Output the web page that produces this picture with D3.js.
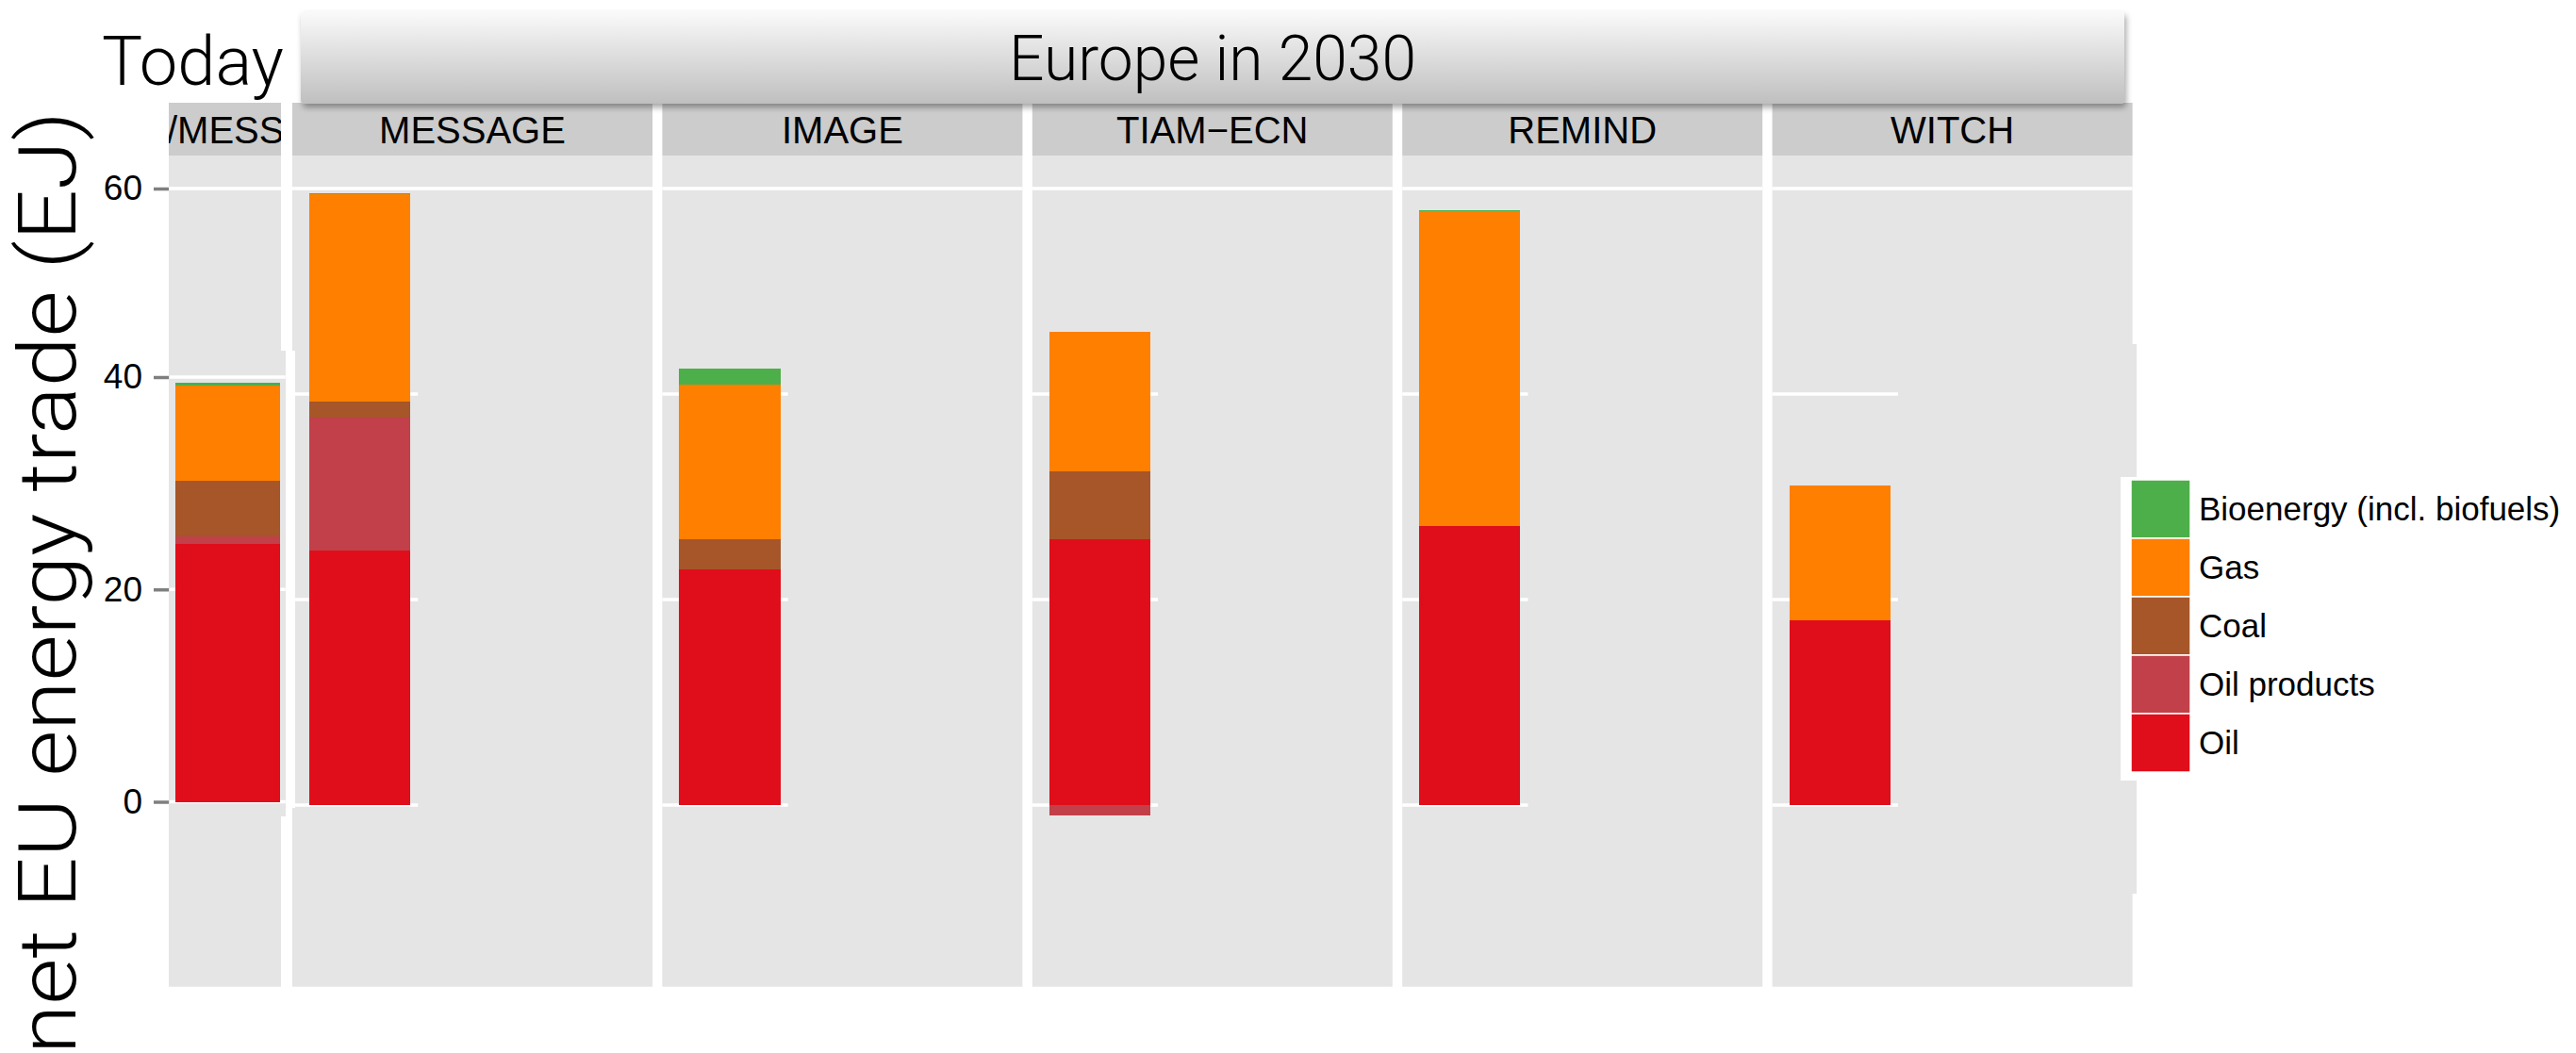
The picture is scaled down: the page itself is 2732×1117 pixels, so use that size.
<!DOCTYPE html>
<html>
<head>
<meta charset="utf-8">
<script src="https://cdn.jsdelivr.net/npm/d3@7"></script>
<style>
  html, body { margin: 0; padding: 0; background: #ffffff; }
  svg { display: block; }
</style>
</head>
<body>
<svg id="chart" width="2732" height="1117"></svg>
<script>
// ---- data -------------------------------------------------------------
const categories = ["Oil", "Oil products", "Coal", "Gas", "Bioenergy (incl. biofuels)"];
const models = ["MESSAGE", "IMAGE", "TIAM\u2212ECN", "REMIND", "WITCH"];

// net imports by carrier for each model, EJ (2030)
const oil         = [24.8, 22.9, 25.9, 27.2, 18.0];
const oilProducts = [12.9, 0.0, -1.05, 0.0, 0.0];
const coal        = [1.6, 2.95, 6.55, 0.0, 0.0];
const gas         = [20.15, 15.1, 13.6, 30.6, 13.1];
const bioenergy   = [0.05, 1.5, 0.0, 0.1, 0.0];

// today's net imports, same carrier order as `categories`
const todayStripLabel = "/MESSAGE";
const todayValues = [24.25, 0.78, 5.2, 9.0, 0.24];

const yTicksMain = [60];
const yTicksToday = [0, 20, 40];

const colors = ["#E00E1A", "#C1404A", "#A65628", "#FF7F00", "#4DAF4A"];

// ---- setup -------------------------------------------------------------
const svg = d3.select("#chart");
const W = 2732, H = 1117;

const PANEL_BG = "#e5e5e5", STRIP_BG = "#cccccc", GRID = "#ffffff", TICK = "#7f7f7f";
const sans = "'Liberation Sans', Arial, Helvetica, sans-serif";
const thin = "Roboto, 'Open Sans', Lato, sans-serif";

const stripTop = 109, stripBottom = 165, panelBottom = 1046.7;

const color = d3.scaleOrdinal().domain(categories).range(colors);

const yMain = d3.scaleLinear().domain([0, 60]).range([854, 200]);
const yToday = d3.scaleLinear().domain([0, 40]).range([850.5, 400]);

const panelX = d3.scaleBand().domain(models).range([310, 2261.6]).paddingInner(0.0265);
const pw = panelX.bandwidth();
const barX = d3.scaleBand().domain(["2030"]).range([0, pw * 1.2 / 3.2])
  .paddingInner(0.1).paddingOuter(0.151);
const todayX = d3.scaleBand().domain(["Today"]).range([186, 297]);

const rows = models.map((m, i) => ({
  model: m,
  "Oil": oil[i],
  "Oil products": oilProducts[i],
  "Coal": coal[i],
  "Gas": gas[i],
  "Bioenergy (incl. biofuels)": bioenergy[i]
}));
const todayRow = [Object.fromEntries(categories.map((c, i) => [c, todayValues[i]]))];
todayRow[0].model = "Today";

const stack = d3.stack().keys(categories).offset(d3.stackOffsetDiverging);
const series = stack(rows);
const todaySeries = stack(todayRow);

// ---- defs ----------------------------------------------------------------
const defs = svg.append("defs");
const grad = defs.append("linearGradient").attr("id", "boxGrad")
  .attr("x1", 0).attr("y1", 0).attr("x2", 0).attr("y2", 1);
grad.append("stop").attr("offset", "0%").attr("stop-color", "#fafafa");
grad.append("stop").attr("offset", "100%").attr("stop-color", "#bfbfbf");
const shadow = defs.append("filter").attr("id", "boxShadow")
  .attr("x", "-2%").attr("y", "-20%").attr("width", "104%").attr("height", "150%");
shadow.append("feDropShadow").attr("dx", 2).attr("dy", 4).attr("stdDeviation", 3)
  .attr("flood-color", "#000").attr("flood-opacity", 0.35);
defs.append("clipPath").attr("id", "todayStripClip")
  .append("rect").attr("x", 179).attr("y", stripTop).attr("width", 119).attr("height", stripBottom - stripTop);

// ---- "Today" panel -------------------------------------------------------
const today = svg.append("g").attr("class", "today-panel");
today.append("rect").attr("x", 179).attr("y", stripTop).attr("width", 119)
  .attr("height", stripBottom - stripTop).attr("fill", STRIP_BG);
today.append("text").attr("clip-path", "url(#todayStripClip)")
  .attr("x", 177).attr("y", 151.5).attr("font-family", sans).attr("font-size", 40)
  .attr("fill", "#000").text(todayStripLabel);

today.append("rect").attr("x", 179).attr("y", stripBottom).attr("width", 119)
  .attr("height", panelBottom - stripBottom).attr("fill", PANEL_BG);
today.append("rect").attr("x", 179).attr("y", yMain(60) - 1.75).attr("width", 119)
  .attr("height", 3.5).attr("fill", GRID);
// inset carrying today's values
today.append("rect").attr("x", 180).attr("y", 372).attr("width", 123)
  .attr("height", 494).attr("fill", PANEL_BG);
today.selectAll("rect.grid").data(yTicksToday).join("rect").attr("class", "grid")
  .attr("x", 180).attr("width", 122.7).attr("y", d => yToday(d) - 1.75).attr("height", 3.5)
  .attr("fill", GRID);

today.selectAll("g.layer").data(todaySeries).join("g").attr("class", "layer")
  .attr("fill", d => color(d.key))
  .selectAll("rect").data(d => d.filter(p => p[1] !== p[0])).join("rect")
  .attr("shape-rendering", "crispEdges")
  .attr("x", todayX("Today")).attr("width", todayX.bandwidth())
  .attr("y", p => yToday(Math.max(p[0], p[1])))
  .attr("height", p => Math.abs(yToday(p[0]) - yToday(p[1])));

// ---- model panels --------------------------------------------------------
const panels = svg.selectAll("g.panel").data(models).join("g").attr("class", "panel")
  .attr("transform", m => `translate(${panelX(m)},0)`);

panels.append("rect").attr("x", 0).attr("y", stripTop).attr("width", pw)
  .attr("height", stripBottom - stripTop).attr("fill", STRIP_BG);
panels.append("text").attr("x", pw / 2).attr("y", 151.5).attr("text-anchor", "middle")
  .attr("font-family", sans).attr("font-size", 40).attr("fill", "#000").text(m => m);
panels.append("rect").attr("x", 0).attr("y", stripBottom).attr("width", pw)
  .attr("height", panelBottom - stripBottom).attr("fill", PANEL_BG);

// full-width major grid line
panels.selectAll("rect.gridfull").data(yTicksMain).join("rect").attr("class", "gridfull")
  .attr("x", 0).attr("width", pw).attr("y", d => yMain(d) - 1.75).attr("height", 3.5)
  .attr("fill", GRID);
// short grid lines in the lower block
const gridRight = barX("2030") + barX.bandwidth() + 8;
panels.selectAll("rect.gridshort").data([0, 20, 40]).join("rect").attr("class", "gridshort")
  .attr("x", 0).attr("width", gridRight).attr("y", d => yMain(d) - 1.75).attr("height", 3.5)
  .attr("fill", GRID);

// stacked bars
const byModel = models.map(m => series.map(s => {
  const p = s.find(q => q.data.model === m);
  return { key: s.key, y0: p[0], y1: p[1] };
}).filter(d => d.y0 !== d.y1));

panels.each(function (m, i) {
  d3.select(this).selectAll("rect.seg").data(byModel[i]).join("rect").attr("class", "seg")
    .attr("shape-rendering", "crispEdges")
    .attr("x", barX("2030")).attr("width", barX.bandwidth())
    .attr("y", d => yMain(Math.max(d.y0, d.y1)))
    .attr("height", d => Math.abs(yMain(d.y0) - yMain(d.y1)))
    .attr("fill", d => color(d.key));
});

// white gutter between Today and MESSAGE lower block
svg.append("rect").attr("x", 303).attr("y", 372).attr("width", 10).attr("height", 485).attr("fill", "#fff");

// WITCH panel lower block runs slightly wider
const lastRight = panelX(models[models.length - 1]) + pw;
svg.append("rect").attr("x", lastRight - 4).attr("y", 365).attr("width", 2266 - lastRight + 4)
  .attr("height", 583).attr("fill", PANEL_BG);

// ---- y axis ------------------------------------------------------------
function styleAxis(g) {
  g.select(".domain").remove();
  g.selectAll(".tick line").attr("stroke", TICK).attr("stroke-width", 3.5);
  g.selectAll(".tick text").attr("font-family", sans).attr("font-size", 37).attr("fill", "#000");
}
svg.append("g").attr("transform", "translate(179,0)")
  .call(d3.axisLeft(yMain).tickValues(yTicksMain).tickSize(16).tickPadding(12))
  .call(styleAxis);
svg.append("g").attr("transform", "translate(179,0)")
  .call(d3.axisLeft(yToday).tickValues(yTicksToday).tickSize(16).tickPadding(12))
  .call(styleAxis);

svg.append("text")
  .attr("transform", "translate(80,118) rotate(-90)")
  .attr("text-anchor", "end").attr("font-family", thin).attr("font-weight", 300)
  .attr("font-size", 86).attr("fill", "#000")
  .attr("textLength", 1000).attr("lengthAdjust", "spacingAndGlyphs")
  .text("net EU energy trade (EJ)");

// ---- headers ------------------------------------------------------------
svg.append("rect").attr("x", 319).attr("y", 12).attr("width", 2253 - 319).attr("height", 98)
  .attr("rx", 4).attr("fill", "url(#boxGrad)").attr("filter", "url(#boxShadow)");
svg.append("text").attr("x", 1286).attr("y", 85).attr("text-anchor", "middle")
  .attr("font-family", thin).attr("font-weight", 300).attr("font-size", 66).attr("fill", "#000")
  .attr("textLength", 432).attr("lengthAdjust", "spacingAndGlyphs")
  .text("Europe in 2030");
svg.append("text").attr("x", 108).attr("y", 90)
  .attr("font-family", thin).attr("font-weight", 300).attr("font-size", 72).attr("fill", "#000")
  .attr("textLength", 193).attr("lengthAdjust", "spacingAndGlyphs")
  .text("Today");

// ---- legend ------------------------------------------------------------
const legendItems = [...categories].reverse();
const keyH = 62, keyW = 63, legX = 2260, legY = 509;
const legend = svg.append("g").attr("class", "legend");
legend.append("rect").attr("x", 2249).attr("y", 506).attr("width", 470).attr("height", 322).attr("fill", "#fff");
const item = legend.selectAll("g.item").data(legendItems).join("g").attr("class", "item")
  .attr("transform", (d, i) => `translate(${legX},${legY + i * keyH})`);
item.append("rect").attr("width", keyW).attr("height", keyH)
  .attr("fill", d => color(d)).attr("stroke", "#fff").attr("stroke-width", 1.5);
item.append("text").attr("x", keyW + 9).attr("y", keyH / 2 + 12)
  .attr("font-family", sans).attr("font-size", 35).attr("fill", "#000").text(d => d);
</script>
</body>
</html>
